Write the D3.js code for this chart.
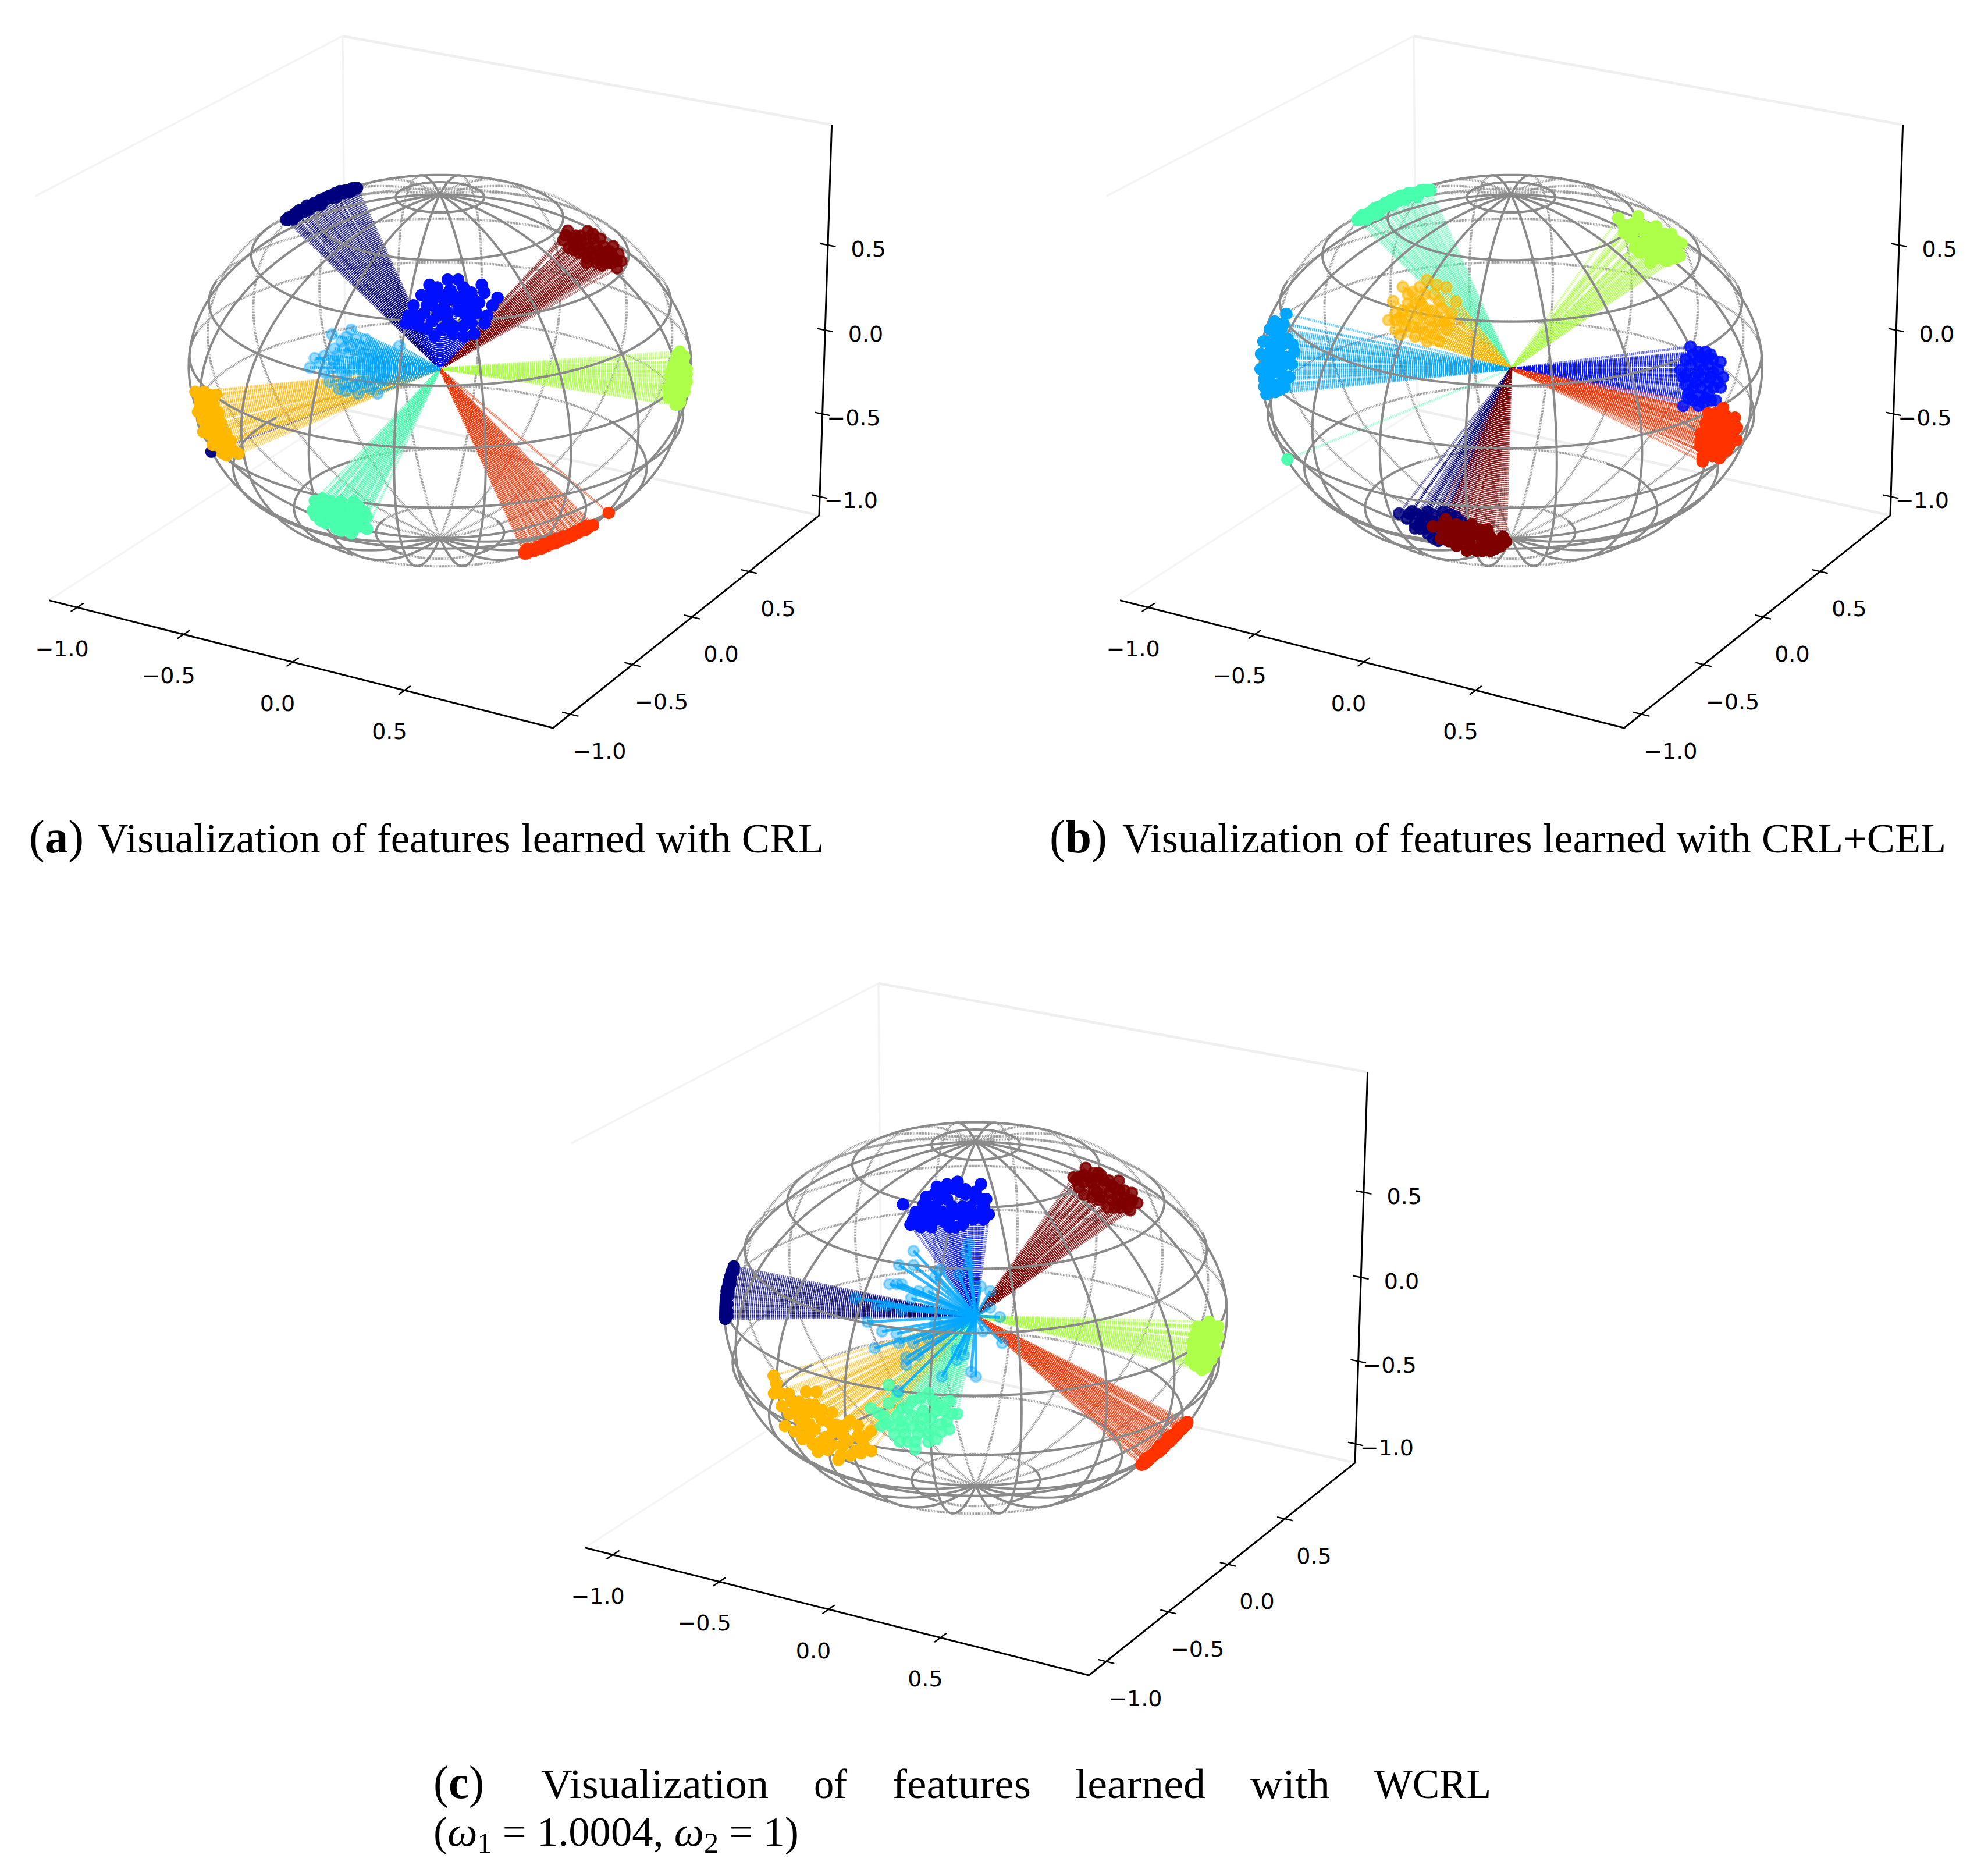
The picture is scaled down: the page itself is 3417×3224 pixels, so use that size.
<!DOCTYPE html>
<html><head><meta charset="utf-8">
<script src="https://cdn.jsdelivr.net/npm/d3@7"></script>
<style>html,body{margin:0;padding:0;background:#fff}svg{display:block}</style></head>
<body><svg id="c" width="3417" height="3224"></svg>
<script>
// Feature vectors, as percent of the unit radius along the
// camera's right and up directions. The third component follows from unit length.
const a_navy=[[-61,60],[-60,61],[-59,61],[-58,62],[-57,63],[-55,64],[-54,64],[-53,66],[-51,66],[-49,67],[-48,68],[-46,69],[-45,69],[-43,70],[-42,71],[-40,71],[-38,72],[-36,72],[-34,73],[-58,60],[-52,64],[-47,66],[-41,69],[-90,-33],[-60,60],[-58,61],[-56,62],[-56,64],[-54,63],[-53,64],[-51,65],[-50,66],[-49,66],[-47,68],[-46,68],[-44,69],[-43,69],[-41,70],[-39,71],[-37,72],[-35,72],[-35,73],[-40,72],[-44,70],[-50,67],[-55,63],[-36,71],[-38,71],[-33,73]];
const a_blue=[[3,35],[7,35],[-4,33],[16,33],[22,28],[-7,29],[-10,25],[-12,21],[-13,18],[-8,17],[1,29],[12,30],[20,25],[17,18],[13,14],[5,14],[-3,19],[7,23],[0,23],[14,22],[5,29],[-5,25],[9,17],[-2,13],[2,26],[6,27],[10,26],[-2,28],[-6,22],[-9,21],[10,21],[15,26],[18,21],[3,19],[-5,16],[-8,20],[12,18],[9,13],[5,17],[1,16],[-1,21],[4,31],[9,32],[-1,32],[13,27],[17,30],[-3,25],[8,28],[3,22],[11,24],[-4,29],[-10,18]];
const a_lightblue=[[-37,16],[-45,14],[-52,4],[-54,0],[-48,5],[-31,12],[-41,11],[-17,9],[-33,8],[-43,5],[-26,5],[-35,3],[-45,0],[-28,0],[-39,-3],[-21,1],[-42,-9],[-34,-11],[-26,-11],[-46,-6],[-33,-6],[-24,-5],[-39,-10],[-30,3],[-37,9],[-22,6],[-40,8],[-44,3],[-36,0],[-30,-3],[-41,-2],[-48,-2],[-28,4],[-32,6],[-25,2],[-36,-8],[-29,-9],[-40,-7],[-23,-2],[-35,12],[-39,13],[-28,9],[-44,8],[-50,2],[-32,-1],[-38,6],[-27,-4],[-42,1]];
const a_turquoise=[[-48,-51],[-45,-50],[-38,-51],[-31,-53],[-28,-57],[-28,-62],[-34,-64],[-40,-62],[-46,-59],[-49,-55],[-42,-55],[-35,-58],[-39,-58],[-33,-59],[-44,-57],[-31,-61],[-47,-53],[-37,-54],[-41,-60],[-36,-62],[-47,-54],[-44,-53],[-41,-53],[-40,-56],[-43,-59],[-38,-60],[-35,-61],[-33,-62],[-30,-60],[-29,-55],[-32,-56],[-36,-53],[-39,-52],[-34,-54],[-42,-51],[-45,-55],[-37,-57],[-30,-58],[-33,-51],[-48,-57],[-44,-60],[-38,-63]];
const a_lime=[[94,7],[96,5],[91,1],[97,0],[90,-3],[97,-5],[89,-9],[96,-9],[93,-14],[92,-6],[96,1],[91,-11],[95,-3],[93,3],[90,-7],[94,-11],[92,-1],[95,-7],[92,3],[94,5],[95,2],[90,-1],[93,-1],[95,-1],[91,-5],[93,-4],[96,-3],[89,-7],[92,-8],[94,-8],[90,-10],[92,-12],[94,-13],[93,6],[95,3],[91,-9],[89,-11],[96,-7],[92,-14],[97,-2]];
const a_orange=[[-96,-9],[-92,-9],[-87,-10],[-94,-12],[-88,-14],[-86,-17],[-95,-17],[-92,-21],[-85,-21],[-93,-25],[-83,-25],[-81,-28],[-89,-30],[-78,-33],[-83,-34],[-80,-32],[-89,-20],[-87,-27],[-90,-14],[-84,-30],[-91,-24],[-86,-23],[-94,-14],[-92,-14],[-89,-12],[-90,-10],[-91,-17],[-88,-17],[-90,-19],[-87,-19],[-88,-22],[-85,-24],[-90,-26],[-87,-24],[-85,-27],[-83,-28],[-87,-30],[-82,-31],[-85,-33],[-93,-20],[-94,-11],[-85,-30],[-88,-25],[-92,-16],[-84,-28]];
const a_red=[[33,-73],[35,-72],[37,-72],[39,-71],[41,-70],[42,-70],[44,-69],[46,-68],[47,-68],[49,-67],[51,-66],[52,-66],[54,-65],[56,-64],[58,-63],[60,-62],[66,-57],[34,-71],[38,-70],[43,-68],[48,-66],[53,-64],[34,-73],[36,-72],[38,-71],[40,-71],[41,-69],[43,-69],[45,-69],[46,-67],[48,-67],[50,-66],[50,-67],[53,-65],[55,-64],[57,-64],[59,-62],[36,-71],[40,-69],[45,-67],[51,-65],[55,-63],[33,-72],[57,-62]];
const a_maroon=[[50,55],[58,55],[48,51],[63,52],[55,51],[68,49],[70,46],[71,43],[69,40],[63,44],[56,46],[50,48],[61,49],[65,45],[53,53],[60,52],[67,42],[57,44],[52,50],[66,47],[54,49],[58,48],[62,47],[55,53],[60,54],[52,47],[59,46],[64,49],[66,44],[68,44],[61,42],[57,42],[63,41],[69,43],[54,46],[49,53],[57,50],[60,44],[64,46],[52,52],[67,46],[65,42]];

const b_navy=[[-43,-56],[-38,-55],[-32,-55],[-25,-57],[-35,-60],[-37,-62],[-30,-59],[-28,-67],[-32,-64],[-23,-56],[-27,-61],[-19,-59],[-40,-58],[-34,-57],[-36,-56],[-33,-58],[-30,-56],[-27,-58],[-25,-60],[-22,-60],[-31,-61],[-33,-62],[-28,-63],[-35,-62],[-30,-66],[-26,-66],[-26,-55],[-21,-57],[-37,-60],[-39,-56]];
const b_blue=[[69,9],[77,6],[81,3],[82,-3],[81,-7],[79,-12],[72,-14],[66,-14],[67,4],[72,3],[70,-3],[76,-5],[68,-9],[74,0],[75,-11],[65,0],[78,-1],[73,5],[70,-7],[76,2],[70,6],[75,7],[78,4],[80,0],[69,2],[72,-1],[74,-3],[77,-3],[67,-2],[71,-5],[73,-7],[78,-7],[67,-6],[72,-10],[76,-9],[70,-12],[74,-13],[80,-5],[68,-11],[77,-12],[66,-3],[72,7],[75,4]];
const b_lightblue=[[-88,22],[-93,19],[-90,16],[-87,12],[-98,11],[-84,7],[-99,6],[-91,9],[-88,2],[-99,0],[-93,1],[-88,-4],[-97,-4],[-91,-6],[-96,-10],[-92,5],[-89,-2],[-95,16],[-94,-2],[-90,-8],[-89,18],[-91,14],[-93,12],[-95,11],[-89,10],[-85,10],[-93,7],[-96,5],[-90,6],[-86,5],[-96,2],[-90,3],[-85,2],[-91,-1],[-96,-1],[-86,-3],[-94,-6],[-88,-7],[-92,-9],[-97,-7],[-94,8],[-92,15]];
const b_turquoise=[[-61,60],[-60,61],[-58,62],[-56,63],[-55,64],[-53,65],[-51,66],[-50,67],[-48,68],[-46,69],[-44,70],[-42,70],[-40,71],[-38,71],[-36,72],[-34,72],[-32,72],[-57,60],[-52,63],[-47,66],[-42,68],[-88,-36],[-60,60],[-59,62],[-57,62],[-55,62],[-54,65],[-52,65],[-50,65],[-48,67],[-46,67],[-44,68],[-43,70],[-41,71],[-39,70],[-37,71],[-35,72],[-33,72],[-37,69],[-45,68],[-53,62],[-49,66],[-58,61],[-41,69]];
const b_lime=[[42,60],[50,61],[46,57],[57,57],[63,54],[67,50],[66,45],[60,43],[54,45],[49,50],[44,54],[53,53],[59,50],[49,55],[55,49],[62,46],[51,48],[58,54],[45,57],[48,58],[52,57],[55,56],[60,54],[62,51],[65,48],[64,44],[58,47],[56,52],[52,50],[47,52],[50,46],[57,44],[61,43],[54,42],[44,57],[46,53],[60,48],[63,46],[48,48],[56,47],[65,51]];
const b_orange=[[-35,37],[-45,34],[-27,34],[-41,32],[-49,28],[-23,28],[-51,20],[-48,23],[-38,28],[-30,28],[-36,23],[-44,20],[-48,16],[-30,11],[-38,17],[-30,20],[-25,23],[-43,27],[-46,14],[-36,14],[-33,17],[-27,16],[-40,27],[-36,31],[-32,31],[-29,25],[-33,24],[-39,21],[-42,24],[-46,21],[-41,17],[-34,20],[-28,19],[-37,26],[-44,17],[-48,20],[-32,14],[-26,20],[-43,31],[-38,34],[-31,35],[-40,13],[-35,11],[-45,24]];
const b_red=[[82,-15],[76,-17],[87,-19],[88,-23],[88,-28],[84,-32],[81,-35],[74,-36],[73,-30],[73,-25],[78,-22],[82,-26],[77,-28],[84,-24],[76,-33],[80,-19],[79,-31],[75,-21],[79,-17],[83,-18],[85,-22],[81,-21],[79,-25],[76,-24],[86,-26],[84,-28],[82,-30],[79,-28],[75,-27],[82,-33],[78,-34],[75,-30],[74,-34],[77,-21],[85,-30],[80,-24],[73,-28],[83,-21],[78,-18],[86,-24]];
const b_maroon=[[-25,-58],[-30,-61],[-21,-60],[-15,-60],[-9,-62],[-3,-65],[-2,-67],[-6,-70],[-13,-71],[-21,-69],[-27,-66],[-19,-65],[-11,-66],[-7,-67],[-23,-62],[-15,-69],[-10,-70],[-17,-63],[-26,-60],[-24,-63],[-20,-62],[-18,-61],[-14,-62],[-12,-62],[-8,-65],[-5,-67],[-4,-69],[-9,-68],[-12,-69],[-16,-67],[-20,-67],[-24,-67],[-26,-63],[-22,-65],[-13,-64],[-17,-71],[-8,-71],[-18,-66],[-15,-64],[-11,-71]];

const c_navy=[[-96,20],[-97,18],[-98,14],[-99,11],[-99,8],[-99,4],[-99,1],[-99,-1],[-97,16],[-98,12],[-99,6],[-99,3],[-96,18],[-98,9],[-99,0],[-96,19],[-97,17],[-97,15],[-98,13],[-98,11],[-99,10],[-99,7],[-99,5],[-99,2],[-98,8],[-98,5],[-98,2],[-98,0],[-97,13],[-98,16]];
const c_blue=[[-28,44],[-7,53],[2,52],[-15,51],[-11,52],[-19,47],[4,46],[5,40],[-25,36],[-21,35],[-23,41],[-17,43],[-11,46],[-4,48],[-5,43],[-1,38],[-12,37],[-18,37],[-8,35],[-2,43],[-14,46],[-7,40],[-20,44],[-16,48],[-12,48],[-8,50],[-4,50],[0,49],[2,46],[3,43],[0,46],[-9,43],[-13,41],[-17,39],[-21,39],[-24,38],[-15,42],[-10,39],[-5,39],[-2,40],[1,40],[3,38],[-14,38],[-10,35],[-5,36],[-17,35],[-6,49],[-20,41]];
const c_lightblue=[[-26,27],[-32,21],[-26,21],[-36,13],[-33,13],[-31,13],[-24,10],[-27,7],[-50,7],[-41,4],[-37,4],[-31,2],[-45,-3],[-39,-7],[-33,-8],[-42,-14],[-32,-12],[-26,-12],[-29,-18],[-29,-21],[-24,-17],[-8,-19],[-14,-26],[-32,-32],[-2,-24],[0,-26],[11,-12],[3,-7],[10,-1],[6,3],[6,10],[2,12],[-3,30],[-4,26],[-3,21],[-7,17],[-15,19],[-17,16],[-20,10],[-20,3],[-17,-4],[-20,-10],[-8,-15],[-5,-17]];
const c_turquoise=[[-33,-26],[-40,-35],[-7,-37],[-10,-43],[-15,-47],[-23,-51],[-31,-45],[-36,-42],[-18,-29],[-26,-35],[-15,-36],[-30,-38],[-21,-42],[-27,-45],[-17,-43],[-10,-32],[-21,-31],[-33,-33],[-26,-48],[-18,-48],[-13,-41],[-30,-30],[-37,-37],[-35,-38],[-32,-42],[-28,-40],[-24,-38],[-20,-36],[-24,-32],[-28,-35],[-16,-32],[-12,-36],[-9,-37],[-17,-39],[-22,-45],[-18,-45],[-13,-44],[-24,-42],[-28,-42],[-34,-41],[-29,-48],[-23,-48],[-14,-34],[-20,-39],[-11,-40]];
const c_lime=[[91,-2],[95,-4],[86,-4],[95,-8],[84,-10],[94,-14],[83,-17],[90,-20],[88,-19],[91,-15],[89,-10],[87,-14],[84,-13],[92,-7],[89,-4],[86,-18],[90,-5],[93,-4],[88,-7],[91,-8],[85,-7],[86,-11],[93,-10],[91,-12],[89,-13],[85,-15],[92,-17],[88,-16],[86,-16],[90,-18],[93,-12],[85,-19],[88,-21],[90,-8]];
const c_orange=[[-78,-23],[-77,-26],[-78,-30],[-72,-30],[-65,-29],[-61,-29],[-75,-35],[-74,-43],[-69,-36],[-62,-34],[-55,-37],[-48,-40],[-40,-44],[-40,-52],[-43,-50],[-53,-56],[-61,-53],[-67,-48],[-70,-45],[-62,-44],[-55,-45],[-49,-48],[-48,-54],[-59,-40],[-53,-42],[-66,-40],[-75,-30],[-71,-33],[-68,-33],[-64,-34],[-66,-36],[-63,-37],[-67,-43],[-64,-42],[-61,-37],[-59,-36],[-56,-41],[-50,-42],[-51,-46],[-45,-46],[-45,-42],[-44,-47],[-42,-46],[-58,-47],[-55,-50],[-51,-50],[-57,-52],[-60,-49],[-46,-52],[-44,-53],[-64,-46],[-72,-38],[-68,-40],[-63,-50],[-52,-54]];
const c_red=[[65,-59],[67,-58],[68,-57],[70,-55],[71,-54],[72,-53],[73,-52],[75,-50],[76,-49],[77,-48],[78,-47],[80,-45],[81,-44],[82,-43],[83,-42],[66,-57],[69,-55],[72,-51],[75,-48],[79,-45],[66,-59],[68,-58],[69,-56],[70,-54],[72,-54],[73,-53],[74,-51],[74,-52],[76,-50],[77,-49],[78,-48],[79,-47],[81,-45],[82,-44],[83,-43],[67,-56],[71,-53],[74,-50],[77,-47],[80,-44]];
const c_maroon=[[43,59],[38,55],[48,57],[56,54],[61,49],[63,45],[60,42],[50,51],[45,53],[53,46],[40,51],[48,46],[58,47],[39,54],[45,47],[52,54],[56,43],[51,43],[42,56],[44,55],[47,54],[50,54],[54,51],[58,50],[60,46],[57,45],[54,43],[49,47],[46,50],[42,48],[42,53],[47,49],[52,49],[55,47],[61,46],[59,43],[49,56],[53,52],[40,55],[56,50],[46,57]];

const colors={navy:"#00007f",blue:"#0010ff",lightblue:"#00a6ff",turquoise:"#49ffad",lime:"#adff49",orange:"#ffb700",red:"#ff3300",maroon:"#7f0000"};

const xTicks=[-1,-0.5,0,0.5], yTicks=[-1,-0.5,0,0.5], zTicks=[-1,-0.5,0,0.5];
const latitudes=[80,61,42,24,6,-14,-34,-54,-75];
const meridianOffsets=d3.range(-170,180,20);

const panels=[
 {dx:0,dy:0,
  caption:{tag:"a",text:"Visualization of features learned with CRL",tagX:50,tagEnd:144,textX:168,textEnd:1416,y:1465},
  series:[
   {c:"navy",pts:a_navy,side:1,alpha:.95,la:.6},
   {c:"maroon",pts:a_maroon,side:1,alpha:.85,la:.6},
   {c:"blue",pts:a_blue,side:1,alpha:1,la:.7},
   {c:"lime",pts:a_lime,side:1,alpha:1,la:.6},
   {c:"turquoise",pts:a_turquoise,side:1,alpha:.95,la:.65},
   {c:"red",pts:a_red,side:1,alpha:.95,la:.65},
   {c:"orange",pts:a_orange,side:1,alpha:.95,la:.55},
   {c:"lightblue",pts:a_lightblue,side:-1,alpha:.4,la:.8,lw:5}]},
 {dx:1841,dy:0,
  caption:{tag:"b",text:"Visualization of features learned with CRL+CEL",tagX:1804,tagEnd:1903,textX:1929,textEnd:3345,y:1465},
  series:[
   {c:"turquoise",pts:b_turquoise,side:1,alpha:.95,la:.5},
   {c:"lime",pts:b_lime,side:1,alpha:1,la:.6},
   {c:"orange",pts:b_orange,side:-1,alpha:.6,la:.7},
   {c:"lightblue",pts:b_lightblue,side:1,alpha:1,la:.55},
   {c:"blue",pts:b_blue,side:1,alpha:.85,la:.6},
   {c:"red",pts:b_red,side:1,alpha:1,la:.6},
   {c:"navy",pts:b_navy,side:1,alpha:.85,la:.6},
   {c:"maroon",pts:b_maroon,side:1,alpha:1,la:.6}]},
 {dx:921,dy:1628,
  series:[
   {c:"navy",pts:c_navy,side:1,alpha:1,la:.6},
   {c:"blue",pts:c_blue,side:1,alpha:1,la:.6},
   {c:"maroon",pts:c_maroon,side:1,alpha:.85,la:.65},
   {c:"lime",pts:c_lime,side:1,alpha:1,la:.65},
   {c:"red",pts:c_red,side:1,alpha:1,la:.65},
   {c:"orange",pts:c_orange,side:1,alpha:1,la:.55},
   {c:"turquoise",pts:c_turquoise,side:1,alpha:.8,la:.65},
   {c:"lightblue",pts:c_lightblue,side:-1,alpha:.4,la:.8,lw:5,solid:true}]}
];

// ----- camera -----
const elev=22*Math.PI/180, azim=-60*Math.PI/180, dist=10;
const lo=-1.135, hi=1.145, zlo=-1.115, zhi=1.195;
const box=[4,4,3], k=1.8294640721620434*25/24/Math.hypot(...box);
const aspect=box.map(b=>b*k), R=aspect.map(a=>a/2);
const sub=(a,b)=>a.map((v,i)=>v-b[i]);
const dot=(a,b)=>a[0]*b[0]+a[1]*b[1]+a[2]*b[2];
const cross=(a,b)=>[a[1]*b[2]-a[2]*b[1],a[2]*b[0]-a[0]*b[2],a[0]*b[1]-a[1]*b[0]];
const unit=a=>{const n=Math.hypot(...a);return a.map(v=>v/n)};
const eye=[R[0]+dist*Math.cos(elev)*Math.cos(azim),R[1]+dist*Math.cos(elev)*Math.sin(azim),R[2]+dist*Math.sin(elev)];
const W=unit(sub(eye,R)), Ux=unit(cross([0,0,1],W)), Vx=cross(W,Ux);
const toBox=d3.scaleLinear().domain([lo,hi]).range([0,1]);
const toBoxZ=d3.scaleLinear().domain([zlo,zhi]).range([0,1]);
function rawProject(x,y,z){
  const p=[toBox(x)*aspect[0],toBox(y)*aspect[1],toBoxZ(z)*aspect[2]];
  const d=sub(p,eye), zv=-dot(d,W);
  return [dot(d,Ux)*dist/zv, dot(d,Vx)*dist/zv];
}
const sx=d3.scaleLinear()
  .domain([rawProject(lo,lo,zlo)[0],rawProject(hi,hi,zlo)[0]]).range([84,1408]);
const sy=d3.scaleLinear()
  .domain([rawProject(hi,lo,zlo)[1],rawProject(lo,hi,zhi)[1]]).range([1251,62]);
const P=(x,y,z)=>{const q=rawProject(x,y,z);return [sx(q[0]),sy(q[1])]};

// from camera-aligned readings to the unit vector in data coordinates
const zSquash=box[2]/box[0];
function toVector(uPct,vPct,side){
  const u=uPct/100,v=vPct/100;
  const rho=Math.sqrt(Math.max(0,1-u*u));
  const A=Math.cos(elev)*zSquash,B=Math.sin(elev),m=Math.hypot(A,B);
  const ratio=Math.max(-1,Math.min(1,v/(m*Math.max(rho,1e-3))));
  const al=Math.atan2(B,A);
  const psi=side>0?al+Math.asin(ratio):al+Math.PI-Math.asin(ratio);
  const s=rho*Math.sin(psi),w=rho*Math.cos(psi);
  const r=[-Math.sin(azim),Math.cos(azim)],h=[Math.cos(azim),Math.sin(azim)];
  return [u*r[0]+w*h[0],u*r[1]+w*h[1],s];
}
function onSphere(latDeg,phiDeg){
  const l=latDeg*Math.PI/180,lon=phiDeg*Math.PI/180+azim;
  return [Math.cos(l)*Math.cos(lon),Math.cos(l)*Math.sin(lon),Math.sin(l)];
}
const line=d3.line();
const svg=d3.select("#c");

// which part of each wire reads dark in the reference
function latDark(lat,phi){
  const a=Math.abs(phi);
  if(lat>=55) return true;
  if(lat<-65) return a>35&&a<120;
  if(lat<-45) return a>35&&a<140;
  if(lat<-25) return a<125;
  if(lat>30) return a<112;
  return a<100;
}
function merDark(phi,lat){
  const a=Math.abs(phi);
  if(a<=90) return true;
  return a===170&&lat>58;
}
function segments(samples,isDark){
  const out=[];let cur=null;
  samples.forEach(s=>{
    const d=isDark(s);
    if(!cur||cur.dark!==d){
      const prev=cur&&cur.pts[cur.pts.length-1];
      cur={dark:d,pts:prev?[prev]:[]};out.push(cur);
    }
    cur.pts.push(s.p);
  });
  return out;
}
function wires(){
  const segs=[];
  latitudes.forEach(lat=>{
    const ss=d3.range(-180,181,3).map(phi=>({phi,p:P(...onSphere(lat,phi))}));
    segs.push(...segments(ss,s=>latDark(lat,s.phi)));
  });
  meridianOffsets.forEach(phi=>{
    const ss=d3.range(-90,91,3).map(lat=>({lat,p:P(...onSphere(lat,phi))}));
    segs.push(...segments(ss,s=>merDark(phi,s.lat)));
  });
  return segs;
}
const allWires=wires();

panels.forEach(pan=>{
  const g=svg.append("g").attr("transform",`translate(${pan.dx},${pan.dy})`);
  // panes
  const pane=[
   [[hi,hi,zhi],[lo,hi,zhi],"#efefef",4.5],
   [[lo,hi,zhi],[lo,lo,zhi],"#f4f4f4",3.5],
   [[lo,hi,zhi],[lo,hi,zlo],"#f3f3f3",3.5],
   [[lo,hi,zlo],[hi,hi,zlo],"#eeeeee",4.5],
   [[lo,hi,zlo],[lo,lo,zlo],"#f5f5f5",3.5]];
  pane.forEach(e=>g.append("path").attr("d",line([P(...e[0]),P(...e[1])])).attr("stroke",e[2]).attr("stroke-width",e[3]).attr("fill","none"));

  // light wires
  g.append("g").selectAll("path").data(allWires.filter(d=>!d.dark)).join("path")
    .attr("d",d=>line(d.pts)).attr("fill","none")
    .attr("stroke","#969696").attr("stroke-width",4).attr("stroke-dasharray","1.6 1").attr("stroke-opacity",.9);

  const series=pan.series.map(s=>({...s,vec:s.pts.map(p=>toVector(p[0],p[1],s.side))}));
  const origin=P(0,0,0);

  // fans
  series.forEach(s=>{
    g.append("g").selectAll("path").data(s.vec).join("path")
      .attr("d",v=>line([origin,P(...v)])).attr("fill","none")
      .attr("stroke",colors[s.c]).attr("stroke-opacity",s.la)
      .attr("stroke-width",s.lw||4.4).attr("stroke-dasharray",s.solid?null:"2 1.3");
  });

  // dark wires
  g.append("g").selectAll("path").data(allWires.filter(d=>d.dark)).join("path")
    .attr("d",d=>line(d.pts)).attr("fill","none")
    .attr("stroke","#8a8a8a").attr("stroke-width",4);

  // points
  series.forEach(s=>{
    g.append("g").selectAll("circle").data(s.vec).join("circle")
      .attr("cx",v=>P(...v)[0]).attr("cy",v=>P(...v)[1]).attr("r",9)
      .attr("fill",colors[s.c]).attr("fill-opacity",s.alpha)
      .attr("stroke",colors[s.c]).attr("stroke-opacity",s.alpha).attr("stroke-width",3.4);
  });

  // axes
  const axis=[[[lo,lo,zlo],[hi,lo,zlo]],[[hi,lo,zlo],[hi,hi,zlo]],[[hi,hi,zlo],[hi,hi,zhi]]];
  axis.forEach(e=>g.append("path").attr("d",line([P(...e[0]),P(...e[1])])).attr("stroke","#000").attr("stroke-width",3).attr("fill","none"));
  const fmt=t=>d3.format(".1f")(t).replace("-","\u2212");
  const label=(x,y,t,anchor)=>g.append("text").attr("x",x).attr("y",y).attr("text-anchor",anchor)
     .attr("font-family","DejaVu Sans").attr("font-size",38).attr("fill","#000").text(fmt(t));
  const tick=(a,b)=>g.append("path").attr("d",line([a,b])).attr("stroke","#000").attr("stroke-width",2.4).attr("fill","none");
  xTicks.forEach(t=>{
    tick(P(t,lo-.045,zlo),P(t,lo+.045,zlo));
    const q=P(t,lo,zlo);label(q[0]-26,q[1]+84,t,"middle");
  });
  yTicks.forEach(t=>{
    tick(P(hi-.035,t,zlo),P(hi+.035,t,zlo));
    const q=P(hi,t,zlo);label(q[0]+50,q[1]+77,t,"middle");
  });
  zTicks.forEach(t=>{
    tick(P(hi-.035,hi,t),P(hi+.035,hi,t));
    const q=P(hi,hi,t);label(q[0]+100,q[1]+20,t,"end");
  });

  if(pan.caption) caption(pan.caption);
});

function serif(x,y,size,len){
  const t=svg.append("text").attr("x",x).attr("y",y)
    .attr("font-family","Liberation Serif").attr("font-size",size).attr("fill","#000");
  if(len) t.attr("textLength",len).attr("lengthAdjust","spacingAndGlyphs");
  return t;
}
function tagText(x,end,y,tag){
  const t=serif(x,y,80,end-x);
  t.append("tspan").text("(");
  t.append("tspan").attr("font-weight","bold").text(tag);
  t.append("tspan").text(")");
}
function caption(c){
  tagText(c.tagX,c.tagEnd,c.y,c.tag);
  serif(c.textX,c.y,72,c.textEnd-c.textX).text(c.text);
}
// panel (c) caption: justified first line, formula on the second
const cWords=[["Visualization",930,1321],["of",1399,1456],["features",1534,1772],["learned",1848,2072],["with",2149,2286],["WCRL",2362,2563]];
tagText(745,832,3090,"c");
cWords.forEach(w=>serif(w[1],3090,72,w[2]-w[1]).text(w[0]));
const f=serif(745,3172,72,628);
f.append("tspan").text("(");
f.append("tspan").attr("font-style","italic").text("\u03C9");
f.append("tspan").attr("font-size",50).attr("dy",12).text("1");
f.append("tspan").attr("dy",-12).text(" = 1.0004, ");
f.append("tspan").attr("font-style","italic").text("\u03C9");
f.append("tspan").attr("font-size",50).attr("dy",12).text("2");
f.append("tspan").attr("dy",-12).text(" = 1)");
</script></body></html>
